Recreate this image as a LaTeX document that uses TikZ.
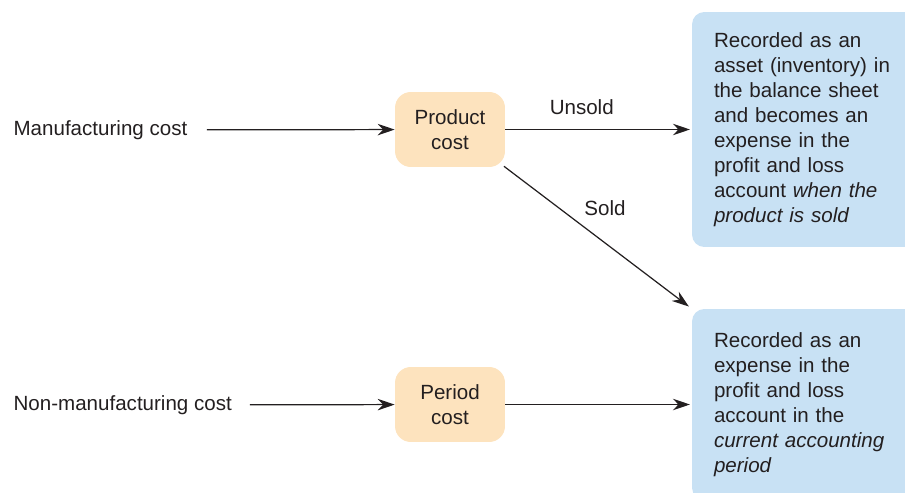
\documentclass[tikz,border=0pt]{standalone}
\usepackage{fontspec}
\setmainfont{Liberation Sans}
\usepackage{xcolor}
\definecolor{costorange}{RGB}{253, 227, 190}
\definecolor{recordblue}{RGB}{200, 225, 244}
\definecolor{inkgray}{RGB}{35, 31, 32}
\usetikzlibrary{arrows.meta, positioning}

\begin{document}
\begin{tikzpicture}[
    x=0.02cm, y=-0.02cm,
    every node/.style={text=inkgray, font=\fontsize{11.7}{14.2}\selectfont},
    costbox/.style={rectangle, fill=costorange, rounded corners=9pt, minimum width=2.2cm, minimum height=1.5cm, align=center, inner sep=0pt},
    recordbox/.style={rectangle, fill=recordblue, rounded corners=7pt, minimum width=4.6cm, inner xsep=0.44cm, text width=3.72cm, align=left},
    source/.style={anchor=west, inner sep=3pt},
    flow/.style={draw=inkgray, line width=0.7pt, -{Stealth[length=3.4mm, width=2.3mm, inset=1.1mm]}}
]
    \useasboundingbox (0,0) rectangle (905,493);
    \node[source] (mfg) at (8,130) {Manufacturing cost};
    \node[source] (nonmfg) at (8,405) {Non-manufacturing cost};
    \node[costbox] (product) at (450,129.5) {Product\\cost};
    \node[costbox] (period) at (450,404.5) {Period\\cost};
    \node[recordbox, minimum height=4.7cm] (asset) at (807,129.5) {Recorded as an\\asset (inventory) in\\the balance sheet\\and becomes an\\expense in the\\profit and loss\\account \textit{when the}\\\textit{product is sold}};
    \node[recordbox, minimum height=3.82cm] (expense) at (807,404.5) {Recorded as an\\expense in the\\profit and loss\\account in the\\\textit{current accounting}\\\textit{period}};

    \draw[flow, shorten <=8pt] (mfg) -- (product);
    \draw[flow, shorten <=7pt] (nonmfg) -- (period);
    \draw[flow, shorten >=1pt] (product) -- node[pos=0.41, above=5pt] (unsold) {Unsold} (asset);
    \draw[flow, shorten <=-1pt, shorten >=2pt] (product.south east) -- node[pos=0.39, above right=0pt] (sold) {Sold} (expense.north west);
    \draw[flow, shorten >=1pt] (period) -- (expense);
\end{tikzpicture}
\end{document}
